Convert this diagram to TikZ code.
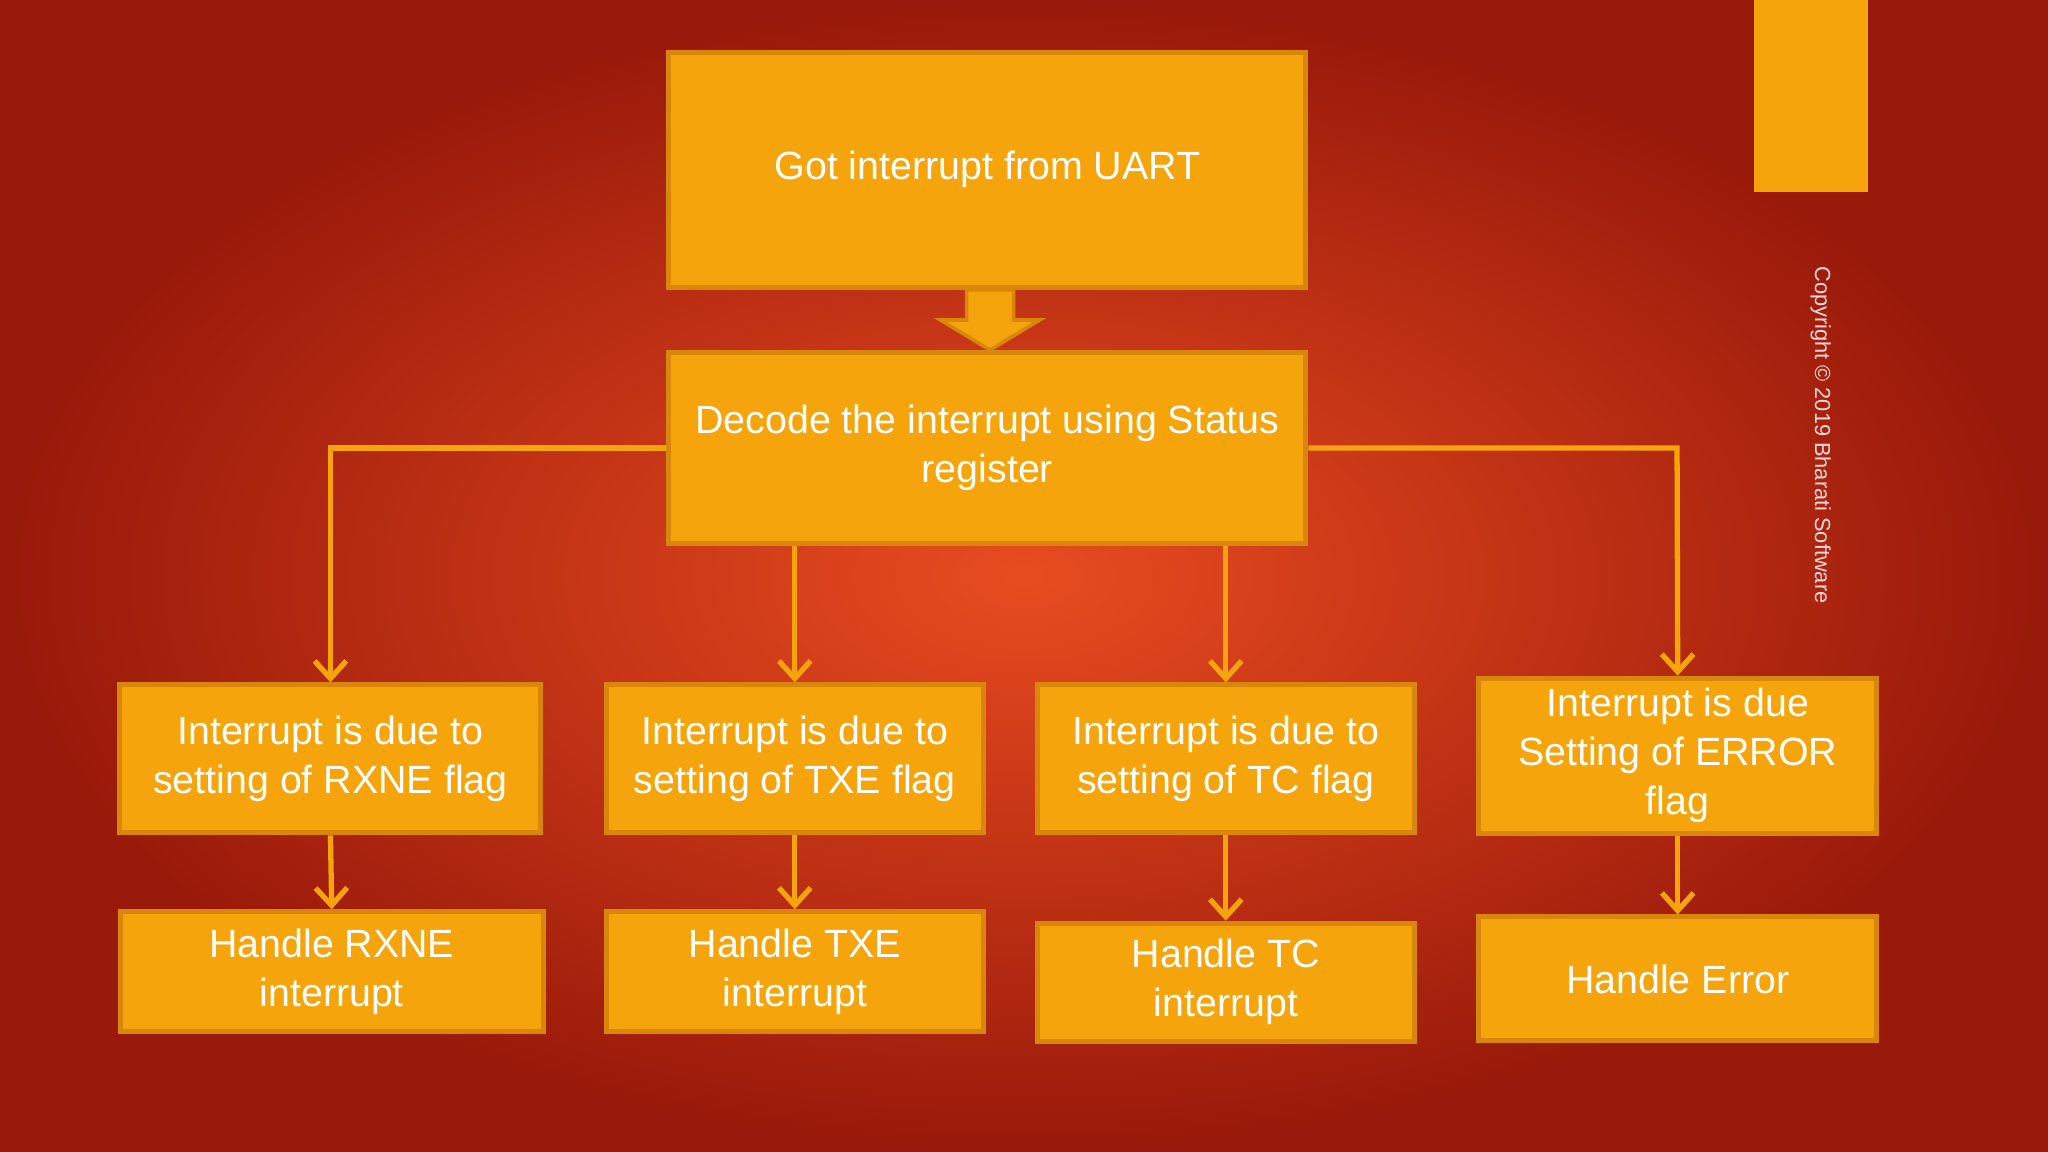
\documentclass[tikz,border=0pt]{standalone}
\usepackage{fontspec}
\setmainfont{Liberation Sans}
\usetikzlibrary{arrows.meta}
\definecolor{boxfill}{HTML}{F5A50B}
\definecolor{boxedge}{HTML}{D8860C}
\definecolor{bgin}{HTML}{E84C20}
\definecolor{bgout}{HTML}{99190A}
\tikzset{
  flowbox/.style={draw=boxedge, fill=boxfill, line width=1.4pt, inner sep=0pt,
    text=white, align=center, font=\fontsize{11.2}{14}\selectfont},
  flowline/.style={boxfill, line width=1.5pt, -{Straight Barb[length=5pt,width=9pt]}}
}
\begin{document}
\begin{tikzpicture}[x=0.013061cm, y=-0.013061cm]
		% Background
		\shade[inner color=bgin, outer color=bgout] (0,0) rectangle (1568,882);
		\useasboundingbox (0,0) rectangle (1568,882);
		\fill[boxfill] (1343,0) rectangle (1430,147);
		\node[rotate=-90, text=white!85!red, font=\fontsize{6.2}{7}\selectfont] (copy) at (1394,333) {Copyright © 2019 Bharati Software};
		
		% Boxes
		\node[flowbox, minimum width=6.37cm, minimum height=2.35cm] (uart) at (756,130) {Got interrupt from UART};
		\node[flowbox, minimum width=6.37cm, minimum height=1.91cm] (decode) at (756,343) {Decode the interrupt using Status\\register};
		%
		\node[flowbox, minimum width=4.21cm, minimum height=1.48cm] (rxne) at (253,581) {Interrupt is due to\\setting of RXNE flag};
		\node[flowbox, minimum width=3.77cm, minimum height=1.48cm] (txe) at (608.5,581) {Interrupt is due to\\setting of TXE flag};
		\node[flowbox, minimum width=3.77cm, minimum height=1.48cm] (tc) at (938.5,581) {Interrupt is due to\\setting of TC flag};
		\node[flowbox, minimum width=3.98cm, minimum height=1.55cm] (err) at (1284.5,578.5) {Interrupt is due\\Setting of ERROR\\flag};
		%
		\node[flowbox, minimum width=4.23cm, minimum height=1.20cm] (hrxne) at (254,744) {Handle RXNE\\interrupt};
		\node[flowbox, minimum width=3.77cm, minimum height=1.20cm] (htxe) at (608.5,744) {Handle TXE\\interrupt};
		\node[flowbox, minimum width=3.77cm, minimum height=1.18cm] (htc) at (938.5,752) {Handle TC\\interrupt};
		\node[flowbox, minimum width=3.98cm, minimum height=1.24cm] (herr) at (1284.5,749.5) {Handle Error};
		
		% Block arrow
		\filldraw[fill=boxfill, draw=boxedge, line width=1pt] (740,222) -- (776,222) -- (776,245) -- (796,245)
			-- (758,268) -- (720,245) -- (740,245) -- cycle;
		
		% Connectors
		\coordinate (lturn) at (253,343);
		\coordinate (rturn) at (1284,343);
		\draw[flowline] (decode.west) -- (lturn) -- (rxne.north);
		\draw[flowline] (decode.east) -- (rturn) -- (err.north);
		\draw[flowline] (decode.south -| txe.north) -- (txe.north);
		\draw[flowline] (decode.south -| tc.north) -- (tc.north);
		%
		\draw[flowline] (rxne.south) -- (hrxne.north);
		\draw[flowline] (txe.south) -- (htxe.north);
		\draw[flowline] (tc.south) -- (htc.north);
		\draw[flowline] (err.south) -- (herr.north);
\end{tikzpicture}
\end{document}
